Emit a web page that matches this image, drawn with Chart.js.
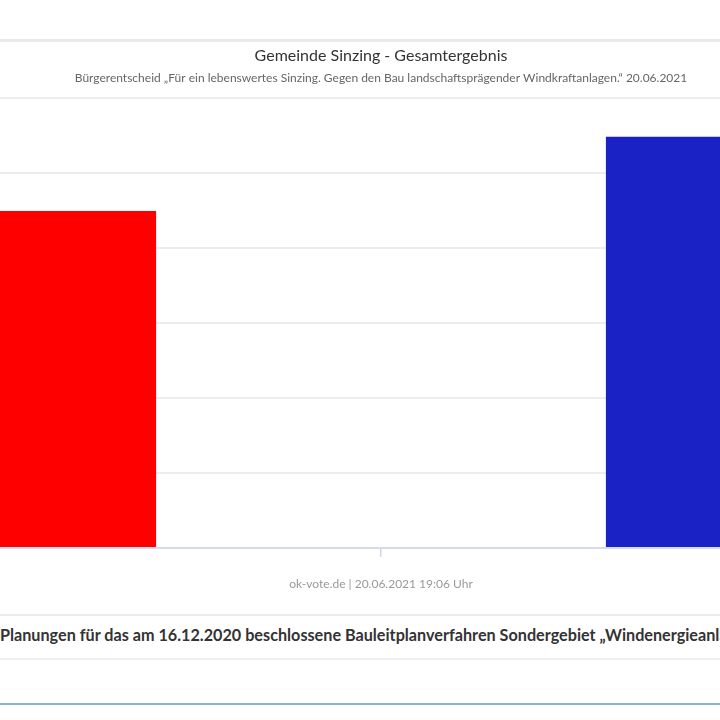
<!DOCTYPE html>
<html>
<head>
<meta charset="utf-8">
<script src="https://cdn.jsdelivr.net/npm/chart.js@4/dist/chart.umd.min.js"></script>
<style>
  html, body { margin: 0; padding: 0; background: #fff; width: 720px; height: 720px; overflow: hidden; position: relative; font-family: Lato, "Open Sans", sans-serif; }
  .line { position: absolute; left: 0; width: 720px; }
  #chart { position: absolute; left: -484px; top: 40px; }
  #footer { position: absolute; left: 0; width: 762px; top: 576px; text-align: center; font-size: 12px; color: #999; white-space: nowrap; }
  #question { position: absolute; left: 0; top: 625px; font-size: 16.2px; font-weight: bold; color: #333; white-space: nowrap; }
</style>
</head>
<body>
<div class="line" style="top:39px;height:3px;background:#e9e9e9"></div>
<canvas id="chart" width="1730" height="560"></canvas>
<div id="footer">ok-vote.de | 20.06.2021 19:06 Uhr</div>
<div class="line" style="top:614px;height:2px;background:#ececec"></div>
<div id="question">Planungen für das am 16.12.2020 beschlossene Bauleitplanverfahren Sondergebiet „Windenergieanlagen“</div>
<div class="line" style="top:658px;height:2px;background:#f0f0f0"></div>
<div class="line" style="top:703px;height:2px;background:#86b4dc"></div>
<script>
const categories = ['Ja', 'Nein'];
const values = [44.9, 54.8];
const barColors = ['#ff0000', '#1a22c6'];
const yTicks = [0, 10, 20, 30, 40, 50, 60];
const titleText = 'Gemeinde Sinzing - Gesamtergebnis';
const subtitleText = 'Bürgerentscheid „Für ein lebenswertes Sinzing. Gegen den Bau landschaftsprägender Windkraftanlagen.“ 20.06.2021';

new Chart(document.getElementById('chart'), {
  type: 'bar',
  data: {
    labels: categories,
    datasets: [{
      data: values,
      backgroundColor: barColors,
      borderWidth: 0,
      categoryPercentage: 0.6,
      barPercentage: 0.8
    }]
  },
  options: {
    responsive: false,
    animation: false,
    devicePixelRatio: 1,
    layout: { padding: { left: 0, right: 0, top: 0, bottom: 43 } },
    plugins: {
      legend: { display: false },
      tooltip: { enabled: false },
      title: {
        display: true,
        text: titleText,
        color: '#333333',
        font: { family: 'Lato', size: 16, weight: 'normal' },
        padding: { top: 6, bottom: 4 }
      },
      subtitle: {
        display: true,
        text: subtitleText,
        color: '#666666',
        font: { family: 'Lato', size: 12, weight: 'normal' },
        padding: { top: 2, bottom: 12 }
      }
    },
    scales: {
      x: {
        ticks: { display: false },
        grid: { display: true, drawOnChartArea: false, drawTicks: true, tickLength: 9, color: '#ccd6eb', lineWidth: 1.5, offset: true },
        border: { display: true, color: '#d3dbec', width: 2 }
      },
      y: {
        min: yTicks[0],
        max: yTicks[yTicks.length - 1],
        afterBuildTicks: (scale) => { scale.ticks = yTicks.map(v => ({ value: v })); },
        ticks: { display: false },
        grid: {
          drawTicks: false,
          lineWidth: 2,
          color: (ctx) => (ctx.tick && ctx.tick.value === 0) ? 'rgba(0,0,0,0)' : '#ededed'
        },
        border: { display: false }
      }
    }
  }
});
</script>
</body>
</html>
